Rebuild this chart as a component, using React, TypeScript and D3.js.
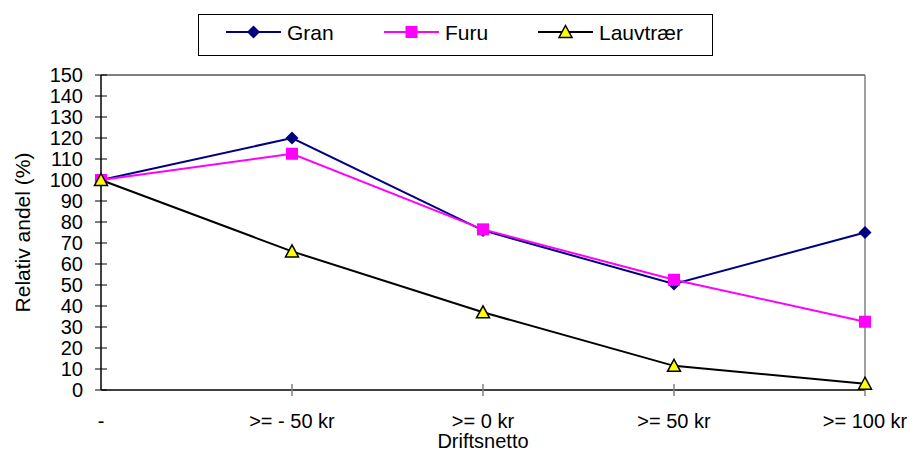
import React from "react";
import * as d3 from "d3";

const categories = ["-", ">= - 50 kr", ">= 0 kr", ">= 50 kr", ">= 100 kr"];
const gran = [100, 120, 76, 50.5, 75];
const furu = [100, 112.5, 76.5, 52.5, 32.5];
const lauv = [100, 66, 37, 11.5, 3];
const yTicks = d3.range(0, 151, 10);

const W = 912, H = 452;
const left = 101, right = 865, top = 75, bottom = 390;
const font = "'Liberation Sans', Arial, sans-serif";

export default function App() {
  const x = d3.scalePoint<string>().domain(categories).range([left, right]);
  const y = d3.scaleLinear().domain([0, 150]).range([bottom, top]);
  const line = d3.line<number>().x((_, i) => x(categories[i])!).y((d) => y(d));

  const diamond = (cx: number, cy: number, k: string) => (
    <path key={k} d={`M${cx},${cy - 6.5}L${cx + 6.5},${cy}L${cx},${cy + 6.5}L${cx - 6.5},${cy}Z`} fill="#000080" />
  );
  const square = (cx: number, cy: number, k: string) => (
    <rect key={k} x={cx - 6} y={cy - 6} width={12} height={12} fill="#ff00ff" />
  );
  const tri = (cx: number, cy: number, k: string) => (
    <path key={k} d={`M${cx},${cy - 6.5}L${cx + 6.5},${cy + 5.5}L${cx - 6.5},${cy + 5.5}Z`} fill="#ffff00" stroke="#000" strokeWidth={1.5} strokeLinejoin="miter" />
  );

  const series = [
    { name: "Gran", data: gran, color: "#000080", marker: diamond, lx: 226 },
    { name: "Furu", data: furu, color: "#ff00ff", marker: square, lx: 384 },
    { name: "Lauvtrær", data: lauv, color: "#000000", marker: tri, lx: 538 },
  ];

  return (
    <svg width={W} height={H} style={{ position: "absolute", left: 0, top: 0, background: "#fff" }} fontFamily={font}>
      {/* plot border: top and right */}
      <line x1={left} x2={right} y1={top} y2={top} stroke="#000" strokeWidth={1} />
      <line x1={right} x2={right} y1={top} y2={bottom} stroke="#808080" strokeWidth={1.5} />
      {/* y axis */}
      <line x1={left} x2={left} y1={top} y2={bottom} stroke="#000" strokeWidth={1.5} />
      {yTicks.map((t) => (
        <g key={t}>
          <line x1={left - 6} x2={left + 6} y1={y(t)} y2={y(t)} stroke="#000" strokeWidth={1} />
          <text x={83} y={y(t)} dy="0.36em" textAnchor="end" fontSize={20}>{t}</text>
        </g>
      ))}
      {/* x axis */}
      <line x1={left} x2={right} y1={bottom} y2={bottom} stroke="#000" strokeWidth={1.5} />
      {categories.map((c, i) => (
        <g key={c}>
          {i > 0 && <line x1={x(c)} x2={x(c)} y1={bottom - 6} y2={bottom + 6} stroke="#808080" strokeWidth={1.5} />}
          <text x={x(c)} y={428} textAnchor="middle" fontSize={20}>{c}</text>
        </g>
      ))}
      <text x={483} y={448} textAnchor="middle" fontSize={20}>Driftsnetto</text>
      <text transform={`translate(30,${(top + bottom) / 2}) rotate(-90)`} textAnchor="middle" fontSize={21}>Relativ andel (%)</text>
      {/* series */}
      {series.map((s) => (
        <g key={s.name}>
          <path d={line(s.data)!} fill="none" stroke={s.color} strokeWidth={2} />
          {s.data.map((v, i) => s.marker(x(categories[i])!, y(v), s.name + i))}
        </g>
      ))}
      {/* legend */}
      <rect x={198.5} y={14.5} width={514} height={41} fill="#fff" stroke="#000" strokeWidth={1} />
      {series.map((s) => (
        <g key={"lg" + s.name}>
          <line x1={s.lx} x2={s.lx + 55} y1={32} y2={32} stroke={s.color} strokeWidth={2} />
          {s.marker(s.lx + 27.5, 32, "lgm" + s.name)}
          <text x={s.lx + 61} y={32} dy="0.36em" fontSize={21}>{s.name}</text>
        </g>
      ))}
    </svg>
  );
}
